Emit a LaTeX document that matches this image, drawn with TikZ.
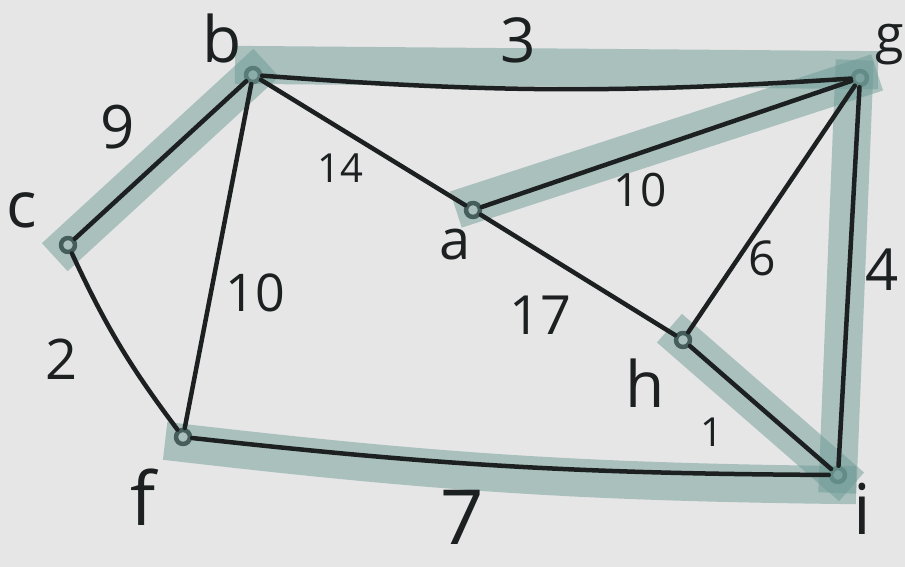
\documentclass[tikz,border=0pt]{standalone}
\usepackage{fontspec}
\setsansfont{Open Sans}
\definecolor{Bgray}{RGB}{230,230,230}
\definecolor{Ink}{RGB}{28,32,32}
\definecolor{Mark}{RGB}{110,155,150}
\tikzset{
  vtx/.style={circle,draw=Ink,line width=4.5pt,minimum size=14pt,inner sep=0pt},
  link/.style={draw=Ink,line width=4.5pt},
  hilite/.style={draw=Mark,opacity=0.5,line width=38pt,line cap=butt,shorten <=-18pt,shorten >=-18pt},
  vname/.style={font=\sffamily\fontsize{#1}{#1}\selectfont,text=Ink},
  vname/.default=64,
  wt/.style={font=\sffamily\fontsize{#1}{#1}\selectfont,text=Ink},
  wt/.default=54,
}

\begin{document}
\begin{tikzpicture}[x=1pt,y=1pt,line cap=round,line join=round]
\fill[Bgray] (0,0) rectangle (905,567);
\path[use as bounding box] (0,0) rectangle (905,567);
% vertices
\node[vtx] (b) at (253,492) {};
\node[vtx] (g) at (860,489) {};
\node[vtx] (c) at (68,322) {};
\node[vtx] (a) at (473,357) {};
\node[vtx] (h) at (683,227) {};
\node[vtx] (f) at (183,130) {};
\node[vtx] (i) at (838,92) {};
% highlighted edges
\draw[hilite] (c.center) -- (b.center);
\draw[hilite] ([yshift=10pt]b.center) -- ([yshift=8pt]g.center);
\draw[hilite] ([yshift=6pt]a.center) -- (g.center);
\draw[hilite] ([xshift=-6pt]g.center) -- (i.center);
\draw[hilite] (h.center) -- (i.center);
\draw[hilite] ([yshift=-6pt]f.center) to[bend right=3] ([yshift=-10pt]i.center);
% edges
\draw[link] (c) -- (b);
\draw[link] (b) to[bend right=4] (g);
\draw[link] (b) -- (a);
\draw[link] (a) -- (g);
\draw[link] (b) -- (f);
\draw[link] (c) to[bend right=6] (f);
\draw[link] (a) -- (h);
\draw[link] (h) -- (g);
\draw[link] (g) -- (i);
\draw[link] (h) -- (i);
\draw[link] (f) to[bend right=3] (i);
% vertex names
\node[vname] (lb) at (222,528) {b};
\node[vname=52] (lg) at (890,522) {g};
\node[vname] (lc) at (22,357) {c};
\node[vname=56] (la) at (455,322) {a};
\node[vname] (lh) at (645,184) {h};
\node[vname=74] (lf) at (143,70) {f};
\node[vname=70] (li) at (862,58) {i};
% weights
\node[wt=62] (w3) at (518,527) {3};
\node[wt=60] (w9) at (118,440) {9};
\node[wt=40] (w14) at (340,399) {14};
\node[wt=46] (w10a) at (640,377) {10};
\node[wt=52] (w10b) at (255,274) {10};
\node[wt] (w17) at (540,252) {17};
\node[wt=48] (w6) at (762,309) {6};
\node[wt=58] (w4) at (882,297) {4};
\node[wt=56] (w2) at (62,208) {2};
\node[wt=40] (w1) at (712,135) {1};
\node[wt=76] (w7) at (462,50) {7};
\end{tikzpicture}
\end{document}
